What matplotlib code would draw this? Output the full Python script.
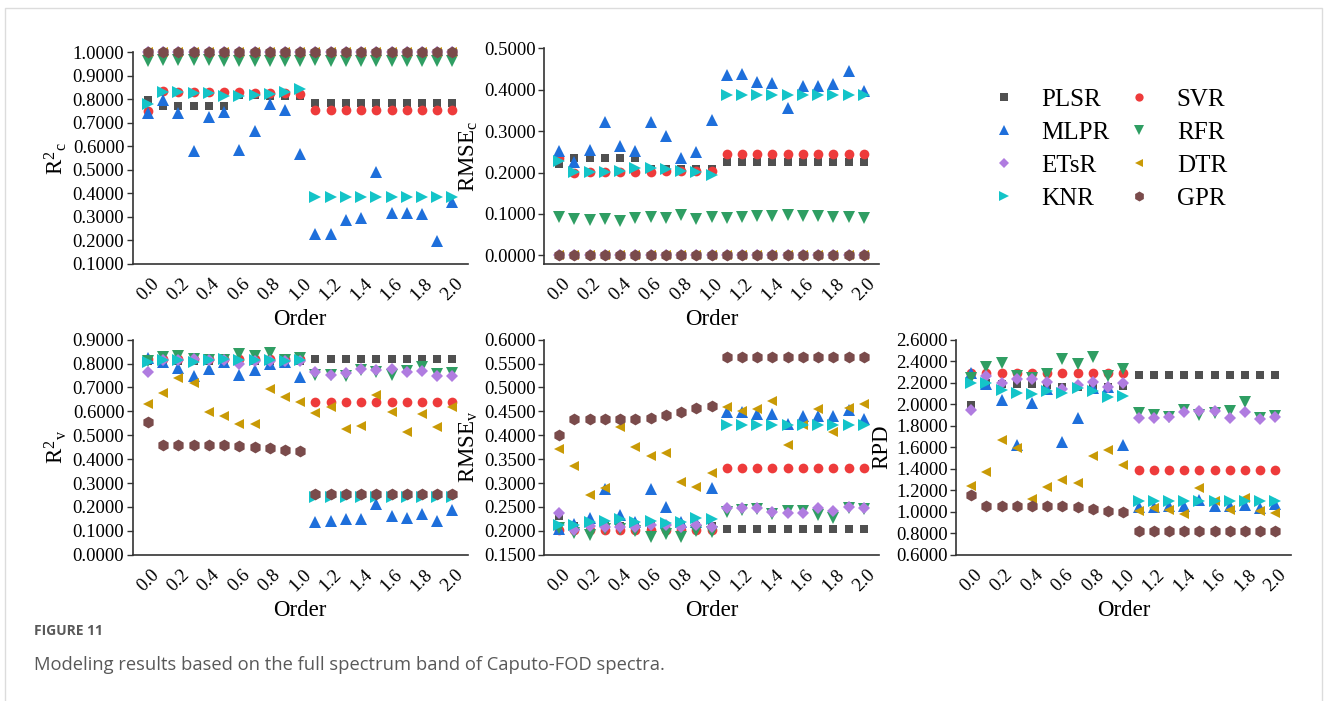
import matplotlib
matplotlib.use("Agg")
import matplotlib.pyplot as plt
from matplotlib.lines import Line2D
from matplotlib.patches import Rectangle

# ---------------- data ----------------
orders = [0.0, 0.1, 0.2, 0.3, 0.4, 0.5, 0.6, 0.7, 0.8, 0.9, 1.0,
          1.1, 1.2, 1.3, 1.4, 1.5, 1.6, 1.7, 1.8, 1.9, 2.0]
xtick_vals = [0.0, 0.2, 0.4, 0.6, 0.8, 1.0, 1.2, 1.4, 1.6, 1.8, 2.0]
xtick_labels = ["0.0", "0.2", "0.4", "0.6", "0.8", "1.0", "1.2", "1.4", "1.6", "1.8", "2.0"]

models = ["PLSR", "SVR", "MLPR", "RFR", "ETsR", "DTR", "KNR", "GPR"]

# R2c
r2c_plsr = [0.797, 0.772, 0.772, 0.772, 0.772, 0.772, 0.818, 0.818, 0.816, 0.816, 0.816,
            0.783, 0.783, 0.783, 0.783, 0.783, 0.783, 0.783, 0.783, 0.783, 0.783]
r2c_svr = [0.750, 0.835, 0.833, 0.833, 0.833, 0.831, 0.830, 0.828, 0.827, 0.826, 0.824,
           0.753, 0.753, 0.753, 0.753, 0.753, 0.753, 0.753, 0.753, 0.753, 0.753]
r2c_mlpr = [0.743, 0.797, 0.743, 0.580, 0.724, 0.748, 0.583, 0.667, 0.779, 0.753, 0.569,
            0.229, 0.229, 0.289, 0.297, 0.493, 0.318, 0.315, 0.311, 0.199, 0.365]
r2c_rfr = [0.962, 0.966, 0.966, 0.966, 0.968, 0.965, 0.962, 0.965, 0.962, 0.965, 0.962,
           0.966, 0.965, 0.962, 0.962, 0.962, 0.965, 0.965, 0.962, 0.962, 0.965]
r2c_etsr = [1.0, 1.0, 1.0, 1.0, 1.0, 1.0, 1.0, 1.0, 1.0, 1.0, 1.0,
            1.0, 1.0, 1.0, 1.0, 1.0, 1.0, 1.0, 1.0, 1.0, 1.0]
r2c_dtr = [1.0, 1.0, 1.0, 1.0, 1.0, 1.0, 1.0, 1.0, 1.0, 1.0, 1.0,
           1.0, 1.0, 1.0, 1.0, 1.0, 1.0, 1.0, 1.0, 1.0, 1.0]
r2c_knr = [0.780, 0.830, 0.830, 0.827, 0.827, 0.814, 0.814, 0.818, 0.823, 0.830, 0.844,
           0.383, 0.383, 0.383, 0.383, 0.383, 0.383, 0.383, 0.383, 0.383, 0.383]
r2c_gpr = [1.0, 1.0, 1.0, 1.0, 1.0, 1.0, 1.0, 1.0, 1.0, 1.0, 1.0,
           1.0, 1.0, 1.0, 1.0, 1.0, 1.0, 1.0, 1.0, 1.0, 1.0]

# RMSEc
rmsec_plsr = [0.221, 0.234, 0.234, 0.234, 0.234, 0.234, 0.208, 0.208, 0.208, 0.208, 0.208,
              0.226, 0.226, 0.226, 0.226, 0.226, 0.226, 0.226, 0.226, 0.226, 0.226]
rmsec_svr = [0.235, 0.200, 0.201, 0.201, 0.201, 0.202, 0.202, 0.203, 0.203, 0.204, 0.204,
             0.244, 0.244, 0.244, 0.244, 0.244, 0.244, 0.244, 0.244, 0.244, 0.244]
rmsec_mlpr = [0.253, 0.226, 0.254, 0.323, 0.264, 0.252, 0.321, 0.289, 0.236, 0.249, 0.327,
              0.436, 0.437, 0.419, 0.417, 0.355, 0.410, 0.410, 0.413, 0.445, 0.397]
rmsec_rfr = [0.093, 0.087, 0.085, 0.087, 0.082, 0.089, 0.093, 0.089, 0.097, 0.087, 0.093,
             0.089, 0.093, 0.095, 0.095, 0.098, 0.095, 0.095, 0.093, 0.093, 0.089]
rmsec_etsr = [0.0, 0.0, 0.0, 0.0, 0.0, 0.0, 0.0, 0.0, 0.0, 0.0, 0.0,
              0.0, 0.0, 0.0, 0.0, 0.0, 0.0, 0.0, 0.0, 0.0, 0.0]
rmsec_dtr = [0.0, 0.0, 0.0, 0.0, 0.0, 0.0, 0.0, 0.0, 0.0, 0.0, 0.0,
             0.0, 0.0, 0.0, 0.0, 0.0, 0.0, 0.0, 0.0, 0.0, 0.0]
rmsec_knr = [0.228, 0.202, 0.202, 0.202, 0.204, 0.212, 0.212, 0.208, 0.204, 0.202, 0.194,
             0.386, 0.386, 0.386, 0.386, 0.386, 0.386, 0.386, 0.386, 0.386, 0.386]
rmsec_gpr = [0.0, 0.0, 0.0, 0.0, 0.0, 0.0, 0.0, 0.0, 0.0, 0.0, 0.0,
             0.0, 0.0, 0.0, 0.0, 0.0, 0.0, 0.0, 0.0, 0.0, 0.0]

# R2v
r2v_plsr = [0.810, 0.810, 0.810, 0.810, 0.810, 0.810, 0.810, 0.810, 0.810, 0.810, 0.810,
            0.819, 0.819, 0.819, 0.819, 0.819, 0.819, 0.819, 0.819, 0.819, 0.819]
r2v_svr = [0.818, 0.818, 0.818, 0.818, 0.818, 0.818, 0.818, 0.818, 0.818, 0.818, 0.818,
           0.640, 0.640, 0.640, 0.640, 0.640, 0.640, 0.640, 0.640, 0.640, 0.640]
r2v_mlpr = [0.822, 0.805, 0.783, 0.749, 0.777, 0.805, 0.752, 0.773, 0.798, 0.805, 0.742,
            0.138, 0.142, 0.148, 0.149, 0.212, 0.162, 0.155, 0.172, 0.141, 0.186]
r2v_rfr = [0.812, 0.829, 0.833, 0.820, 0.815, 0.815, 0.840, 0.833, 0.843, 0.815, 0.822,
           0.752, 0.752, 0.749, 0.773, 0.763, 0.752, 0.770, 0.787, 0.755, 0.759]
r2v_etsr = [0.763, 0.815, 0.815, 0.818, 0.815, 0.815, 0.798, 0.810, 0.810, 0.810, 0.810,
            0.763, 0.752, 0.762, 0.777, 0.773, 0.777, 0.763, 0.769, 0.749, 0.749]
r2v_dtr = [0.631, 0.675, 0.741, 0.717, 0.599, 0.580, 0.546, 0.547, 0.692, 0.661, 0.640,
           0.592, 0.620, 0.526, 0.540, 0.668, 0.599, 0.515, 0.589, 0.533, 0.617]
r2v_knr = [0.805, 0.815, 0.815, 0.805, 0.815, 0.819, 0.815, 0.815, 0.815, 0.812, 0.815,
           0.240, 0.240, 0.240, 0.240, 0.240, 0.240, 0.240, 0.240, 0.240, 0.240]
r2v_gpr = [0.557, 0.459, 0.459, 0.459, 0.459, 0.459, 0.456, 0.452, 0.445, 0.438, 0.434,
           0.254, 0.254, 0.254, 0.254, 0.254, 0.254, 0.254, 0.254, 0.254, 0.254]

# RMSEv
rmsev_plsr = [0.231, 0.210, 0.210, 0.210, 0.210, 0.210, 0.210, 0.210, 0.210, 0.210, 0.210,
              0.203, 0.203, 0.203, 0.203, 0.203, 0.203, 0.203, 0.203, 0.203, 0.203]
rmsev_svr = [0.202, 0.202, 0.202, 0.202, 0.202, 0.202, 0.202, 0.202, 0.202, 0.202, 0.202,
             0.332, 0.332, 0.332, 0.332, 0.332, 0.332, 0.332, 0.332, 0.332, 0.332]
rmsev_mlpr = [0.204, 0.214, 0.227, 0.287, 0.233, 0.219, 0.287, 0.250, 0.219, 0.219, 0.290,
              0.448, 0.448, 0.444, 0.444, 0.423, 0.440, 0.440, 0.440, 0.453, 0.433]
rmsev_rfr = [0.205, 0.195, 0.191, 0.204, 0.204, 0.200, 0.188, 0.193, 0.188, 0.200, 0.198,
             0.240, 0.243, 0.245, 0.235, 0.242, 0.242, 0.234, 0.226, 0.247, 0.245]
rmsev_etsr = [0.237, 0.202, 0.210, 0.207, 0.207, 0.207, 0.212, 0.212, 0.209, 0.212, 0.209,
              0.247, 0.247, 0.247, 0.239, 0.238, 0.238, 0.247, 0.241, 0.249, 0.247]
rmsev_dtr = [0.371, 0.336, 0.276, 0.290, 0.417, 0.375, 0.357, 0.362, 0.303, 0.291, 0.322,
             0.460, 0.451, 0.454, 0.472, 0.380, 0.421, 0.455, 0.406, 0.458, 0.465]
rmsev_knr = [0.212, 0.212, 0.219, 0.221, 0.224, 0.219, 0.221, 0.216, 0.219, 0.226, 0.224,
             0.421, 0.421, 0.421, 0.421, 0.421, 0.421, 0.421, 0.421, 0.421, 0.421]
rmsev_gpr = [0.400, 0.435, 0.435, 0.435, 0.435, 0.435, 0.437, 0.442, 0.448, 0.458, 0.462,
             0.563, 0.563, 0.563, 0.563, 0.563, 0.563, 0.563, 0.563, 0.563, 0.563]

# RPD
rpd_plsr = [1.992, 2.197, 2.185, 2.185, 2.184, 2.175, 2.163, 2.163, 2.163, 2.163, 2.169,
            2.271, 2.271, 2.271, 2.271, 2.271, 2.271, 2.271, 2.271, 2.271, 2.271]
rpd_svr = [2.293, 2.292, 2.292, 2.292, 2.292, 2.292, 2.292, 2.292, 2.292, 2.292, 2.290,
           1.391, 1.391, 1.391, 1.391, 1.391, 1.391, 1.391, 1.391, 1.391, 1.391]
rpd_mlpr = [2.287, 2.184, 2.039, 1.620, 2.008, 2.138, 1.645, 1.868, 2.147, 2.157, 1.620,
            1.040, 1.040, 1.053, 1.053, 1.109, 1.053, 1.053, 1.062, 1.031, 1.068]
rpd_rfr = [2.246, 2.349, 2.386, 2.262, 2.246, 2.277, 2.420, 2.370, 2.436, 2.262, 2.324,
           1.915, 1.899, 1.884, 1.946, 1.899, 1.915, 1.936, 2.023, 1.868, 1.893]
rpd_etsr = [1.946, 2.262, 2.200, 2.231, 2.231, 2.209, 2.141, 2.178, 2.209, 2.157, 2.194,
            1.874, 1.868, 1.877, 1.924, 1.940, 1.940, 1.874, 1.924, 1.859, 1.877]
rpd_dtr = [1.236, 1.372, 1.667, 1.595, 1.115, 1.226, 1.295, 1.270, 1.521, 1.574, 1.434,
           1.009, 1.031, 1.016, 0.975, 1.217, 1.099, 1.016, 1.130, 1.006, 0.991]
rpd_knr = [2.194, 2.194, 2.132, 2.107, 2.091, 2.122, 2.101, 2.147, 2.122, 2.064, 2.076,
           1.099, 1.099, 1.099, 1.099, 1.099, 1.099, 1.099, 1.099, 1.099, 1.099]
rpd_gpr = [1.155, 1.056, 1.056, 1.056, 1.056, 1.056, 1.053, 1.040, 1.025, 1.006, 0.994,
           0.820, 0.820, 0.820, 0.820, 0.820, 0.820, 0.820, 0.820, 0.820, 0.820]

# ---------------- style ----------------
styles = {
    "PLSR": dict(marker="s", color="#505050", ms=6.0),
    "SVR":  dict(marker="o", color="#EE3B3B", ms=7.0),
    "MLPR": dict(marker="^", color="#1E6FDB", ms=8.0),
    "RFR":  dict(marker="v", color="#2F9E63", ms=8.0),
    "ETsR": dict(marker="D", color="#B07CE0", ms=6.0),
    "DTR":  dict(marker="<", color="#C99A06", ms=7.5),
    "KNR":  dict(marker=">", color="#14C4C8", ms=8.0),
    "GPR":  dict(marker="h", color="#7A4B4B", ms=8.5),
}

plt.rcParams["font.family"] = ["Liberation Serif", "DejaVu Serif"]
plt.rcParams["mathtext.fontset"] = "custom"
plt.rcParams["mathtext.rm"] = "Liberation Serif"
plt.rcParams["mathtext.it"] = "Liberation Serif"

W, H = 1328, 701
fig = plt.figure(figsize=(W / 100, H / 100), dpi=100)


def axes_px(left, top, right, bottom):
    return fig.add_axes([left / W, 1 - bottom / H, (right - left) / W, (bottom - top) / H])


panels = [
    dict(rect=(132.7, 52.3, 467.7, 264.0), ylim=(0.1, 1.0),
         yticks=[0.1, 0.2, 0.3, 0.4, 0.5, 0.6, 0.7, 0.8, 0.9, 1.0],
         ylabel=r"R$^{2}$$_{\mathrm{c}}$",
         data=[r2c_plsr, r2c_svr, r2c_mlpr, r2c_rfr, r2c_etsr, r2c_dtr, r2c_knr, r2c_gpr]),
    dict(rect=(544.0, 48.3, 879.0, 264.0), ylim=(-0.021, 0.5),
         yticks=[0.0, 0.1, 0.2, 0.3, 0.4, 0.5],
         ylabel=r"RMSE$_{\mathrm{c}}$",
         data=[rmsec_plsr, rmsec_svr, rmsec_mlpr, rmsec_rfr, rmsec_etsr, rmsec_dtr, rmsec_knr, rmsec_gpr]),
    dict(rect=(132.7, 339.7, 467.7, 554.7), ylim=(0.0, 0.9),
         yticks=[0.0, 0.1, 0.2, 0.3, 0.4, 0.5, 0.6, 0.7, 0.8, 0.9],
         ylabel=r"R$^{2}$$_{\mathrm{v}}$",
         data=[r2v_plsr, r2v_svr, r2v_mlpr, r2v_rfr, r2v_etsr, r2v_dtr, r2v_knr, r2v_gpr]),
    dict(rect=(544.0, 339.7, 879.0, 554.7), ylim=(0.15, 0.6),
         yticks=[0.15, 0.2, 0.25, 0.3, 0.35, 0.4, 0.45, 0.5, 0.55, 0.6],
         ylabel=r"RMSE$_{\mathrm{v}}$",
         data=[rmsev_plsr, rmsev_svr, rmsev_mlpr, rmsev_rfr, rmsev_etsr, rmsev_dtr, rmsev_knr, rmsev_gpr]),
    dict(rect=(956.0, 339.7, 1290.7, 554.7), ylim=(0.6, 2.6),
         yticks=[0.6, 0.8, 1.0, 1.2, 1.4, 1.6, 1.8, 2.0, 2.2, 2.4, 2.6],
         ylabel="RPD",
         data=[rpd_plsr, rpd_svr, rpd_mlpr, rpd_rfr, rpd_etsr, rpd_dtr, rpd_knr, rpd_gpr]),
]

axis_color = "#333333"
for p in panels:
    ax = axes_px(*p["rect"])
    for name, vals in zip(models, p["data"]):
        st = styles[name]
        ax.plot(orders, vals, linestyle="none", marker=st["marker"], color=st["color"],
                markersize=st["ms"], markeredgewidth=0, clip_on=False, label=name)
    ax.set_xlim(-0.1, 2.1)
    ax.set_ylim(*p["ylim"])
    ax.set_yticks(p["yticks"])
    ax.set_yticklabels(["%.4f" % v for v in p["yticks"]])
    ax.set_xticks(xtick_vals)
    ax.set_xticklabels(xtick_labels, rotation=45, ha="center", va="top")
    ax.tick_params(axis="y", direction="out", length=4, width=1.0, color=axis_color,
                   labelsize=13.5, pad=2)
    ax.tick_params(axis="x", length=0, labelsize=13.5, pad=8)
    for s in ["top", "right"]:
        ax.spines[s].set_visible(False)
    for s in ["left", "bottom"]:
        ax.spines[s].set_color(axis_color)
        ax.spines[s].set_linewidth(1.2)
    ax.set_xlabel("Order", fontsize=16.5, labelpad=4)
    ax.set_ylabel(p["ylabel"], fontsize=16.5, labelpad=3)
    ax.patch.set_alpha(0)

# legend
legend_order = ["PLSR", "MLPR", "ETsR", "KNR", "SVR", "RFR", "DTR", "GPR"]
handles = [Line2D([], [], linestyle="none", marker=styles[m]["marker"], color=styles[m]["color"],
                  markersize=styles[m]["ms"] * 0.85, markeredgewidth=0) for m in legend_order]
fig.legend(handles, legend_order, ncol=2, loc="center", bbox_to_anchor=(1109 / W, 1 - 149 / H),
           frameon=False, fontsize=18, handlelength=1.0, handletextpad=1.0,
           columnspacing=0.7, labelspacing=0.42, borderpad=0)

# caption
fig.text(34 / W, 1 - 631 / H, "FIGURE 11", fontsize=10, fontweight="bold", color="#595959",
         family=["Open Sans", "DejaVu Sans"], va="center", ha="left")
fig.text(34 / W, 1 - 665 / H, "Modeling results based on the full spectrum band of Caputo-FOD spectra.",
         fontsize=13.2, color="#595959", family=["Open Sans", "DejaVu Sans"], va="center", ha="left")

# outer border
fig.patches.append(Rectangle((5 / W, -0.01), (1322 - 5) / W, 1 - 8 / H + 0.01,
                             transform=fig.transFigure, fill=False, edgecolor="#dcdcdc",
                             linewidth=1.0))

fig.savefig("out.png", dpi=100)
